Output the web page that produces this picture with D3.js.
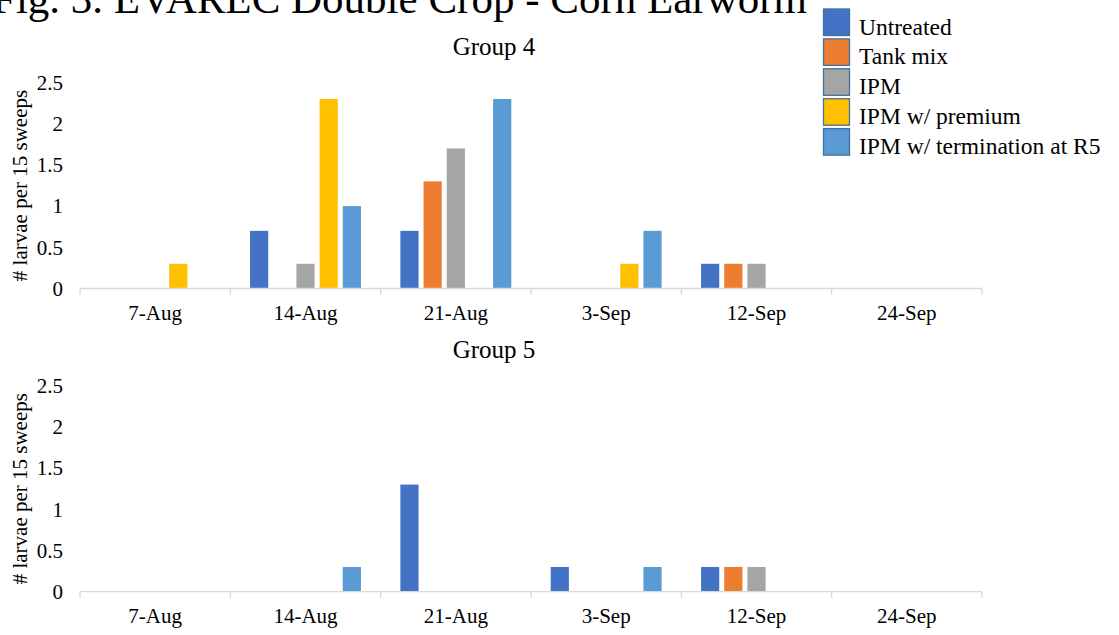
<!DOCTYPE html>
<html>
<head>
<meta charset="utf-8">
<script src="https://cdn.jsdelivr.net/npm/d3@7"></script>
<style>
  html, body { margin: 0; padding: 0; background: #fff; }
  svg { display: block; font-family: "Liberation Serif", "Times New Roman", serif; }
</style>
</head>
<body>
<svg id="chart" width="1119" height="635"></svg>
<script>
// Sampling dates (categories)
const dates = ["7-Aug", "14-Aug", "21-Aug", "3-Sep", "12-Sep", "24-Sep"];

// Treatments (series)
const treatments = ["Untreated", "Tank mix", "IPM", "IPM w/ premium", "IPM w/ termination at R5"];
const colors = ["#4472C4", "#ED7D31", "#A5A5A5", "#FFC000", "#5B9BD5"];

// Larvae per 15 sweeps, one array per treatment, in date order
const group4Untreated = [0, 0.7, 0.7, 0, 0.3, 0];
const group4TankMix   = [0, 0, 1.3, 0, 0.3, 0];
const group4IPM       = [0, 0.3, 1.7, 0, 0.3, 0];
const group4Premium   = [0.3, 2.3, 0, 0.3, 0, 0];
const group4R5        = [0, 1.0, 2.3, 0.7, 0, 0];

const group5Untreated = [0, 0, 1.3, 0.3, 0.3, 0];
const group5TankMix   = [0, 0, 0, 0, 0.3, 0];
const group5IPM       = [0, 0, 0, 0, 0.3, 0];
const group5Premium   = [0, 0, 0, 0, 0, 0];
const group5R5        = [0, 0.3, 0, 0.3, 0, 0];

const yTicks = [0, 0.5, 1, 1.5, 2, 2.5];

const panels = [
  { title: "Group 4", series: [group4Untreated, group4TankMix, group4IPM, group4Premium, group4R5], top: 82.5, bottom: 288.5 },
  { title: "Group 5", series: [group5Untreated, group5TankMix, group5IPM, group5Premium, group5R5], top: 385.7, bottom: 591.7 }
];

const svg = d3.select("#chart");
const plotLeft = 80, plotRight = 982;

// Figure title (runs past the top and left edges of the page)
svg.append("text")
  .attr("x", -8).attr("y", 13)
  .attr("font-size", 43)
  .attr("fill", "#000")
  .text("Fig. 3. EVAREC Double Crop - Corn Earworm");

const x0 = d3.scaleBand().domain(dates).range([plotLeft, plotRight]).padding(0);
const x1 = d3.scaleBand().domain(treatments).range([0, x0.bandwidth()])
  .paddingInner(0.215).paddingOuter(0.85);
const color = d3.scaleOrdinal().domain(treatments).range(colors);

panels.forEach(p => {
  const g = svg.append("g");
  const y = d3.scaleLinear().domain([0, 2.5]).range([p.bottom, p.top]);

  // panel title
  g.append("text")
    .attr("x", 494).attr("y", p.top - 27.5)
    .attr("text-anchor", "middle")
    .attr("font-size", 25)
    .text(p.title);

  // y-axis label
  g.append("text")
    .attr("transform", `translate(20,${(p.top + p.bottom) / 2}) rotate(-90)`)
    .attr("text-anchor", "middle")
    .attr("dy", "0.33em")
    .attr("font-size", 21)
    .text("# larvae per 15 sweeps");

  // y-axis tick labels (no axis line)
  const yAxis = d3.axisLeft(y).tickValues(yTicks).tickSize(0).tickPadding(0)
    .tickFormat(d3.format("~g"));
  const ya = g.append("g").attr("transform", "translate(63,0)").call(yAxis);
  ya.select(".domain").remove();
  ya.selectAll("text")
    .attr("font-size", 21)
    .attr("font-family", "Liberation Serif, Times New Roman, serif")
    .attr("fill", "#000")
    .attr("dy", "0.32em");

  // bars
  const rows = dates.map((d, i) => ({ date: d, values: treatments.map((t, j) => ({ t, v: p.series[j][i] })) }));
  const grp = g.selectAll(".grp").data(rows).join("g")
    .attr("transform", d => `translate(${x0(d.date)},0)`);
  grp.selectAll("rect").data(d => d.values.filter(v => v.v > 0)).join("rect")
    .attr("x", d => x1(d.t))
    .attr("width", x1.bandwidth())
    .attr("y", d => y(d.v))
    .attr("height", d => y(0) - y(d.v))
    .attr("fill", d => color(d.t));

  // x axis: light baseline with boundary ticks, labels centred in each band
  const xa = g.append("g").attr("transform", `translate(0,${p.bottom})`);
  xa.append("line")
    .attr("x1", plotLeft).attr("x2", plotRight)
    .attr("stroke", "#D9D9D9").attr("stroke-width", 1.3);
  const bounds = dates.map(d => x0(d)).concat([plotRight]);
  xa.selectAll(".tk").data(bounds).join("line")
    .attr("x1", d => d).attr("x2", d => d)
    .attr("y1", 0).attr("y2", 6)
    .attr("stroke", "#D9D9D9").attr("stroke-width", 1.3);
  xa.selectAll(".lbl").data(dates).join("text")
    .attr("x", d => x0(d) + x0.bandwidth() / 2)
    .attr("y", 31)
    .attr("text-anchor", "middle")
    .attr("font-size", 21)
    .text(d => d);
});

// legend
const legend = svg.append("g").attr("transform", "translate(823,8.5)");
const items = legend.selectAll("g").data(treatments).join("g")
  .attr("transform", (d, i) => `translate(0,${i * 29.9})`);
items.append("rect")
  .attr("x", 0.5).attr("y", 0.5)
  .attr("width", 26).attr("height", 26.5)
  .attr("fill", d => color(d))
  .attr("stroke", "#41719C").attr("stroke-width", 1.3);
items.append("text")
  .attr("x", 36).attr("y", 26)
  .attr("font-size", 23.5)
  .text(d => d);
</script>
</body>
</html>
